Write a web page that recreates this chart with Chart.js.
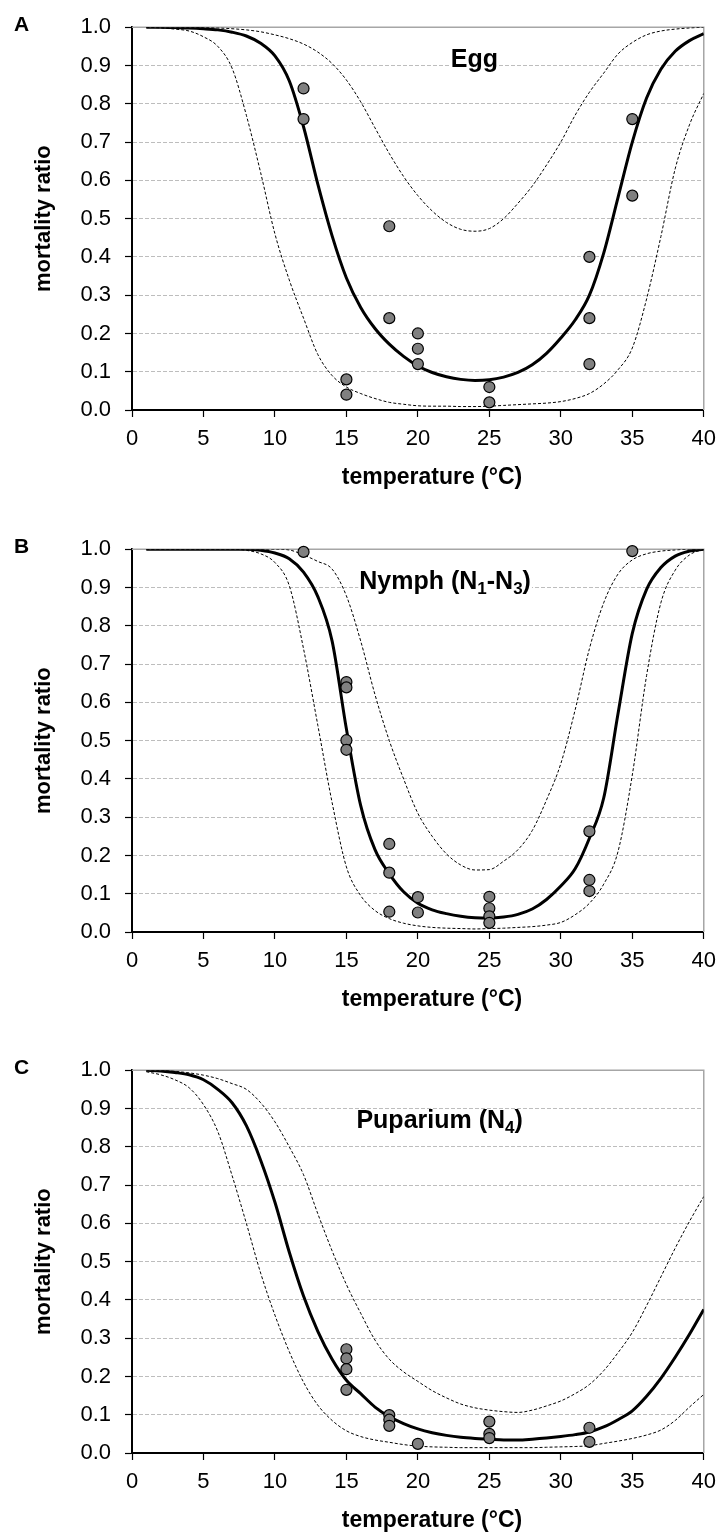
<!DOCTYPE html>
<html><head><meta charset="utf-8">
<script src="https://cdn.jsdelivr.net/npm/chart.js@4.4.1/dist/chart.umd.min.js"></script>
<style>
html,body{margin:0;padding:0;background:#fff;}
body{width:725px;height:1535px;position:relative;overflow:hidden;}
.panel{position:absolute;left:0;width:725px;height:492px;}
canvas{display:block;}
</style></head><body>
<div class="panel" style="top:0px"><canvas id="cA" width="725" height="492"></canvas></div>
<div class="panel" style="top:522px"><canvas id="cB" width="725" height="492"></canvas></div>
<div class="panel" style="top:1043px"><canvas id="cC" width="725" height="492"></canvas></div>
<script>
// ---------- data ----------
const temps = [1,2,3,4,5,6,7,8,9,10,11,12,13,14,15,16,17,18,19,20,21,22,23,24,25,26,27,28,29,30,31,32,33,34,35,36,37,38,39,40];
const xTicks = [0,5,10,15,20,25,30,35,40];
const yTicks = [0.0,0.1,0.2,0.3,0.4,0.5,0.6,0.7,0.8,0.9,1.0];
const xTitle = "temperature (°C)";
const yTitle = "mortality ratio";

// A: Egg
const eggObsT = [12,12,15,15,18,18,20,20,20,25,25,32,32,32,35,35];
const eggObsM = [0.84,0.76,0.08,0.04,0.48,0.24,0.20,0.16,0.12,0.06,0.02,0.40,0.24,0.12,0.76,0.56];
const eggMean = [1.000,1.000,0.999,0.998,0.996,0.993,0.987,0.977,0.958,0.925,0.86,0.74,0.59,0.455,0.345,0.268,0.213,0.172,0.14,0.115,0.098,0.087,0.080,0.077,0.079,0.086,0.098,0.118,0.148,0.188,0.235,0.30,0.41,0.555,0.70,0.815,0.89,0.937,0.965,0.983];
const eggUpper = [1.000,1.000,1.000,0.999,0.999,0.998,0.996,0.993,0.988,0.980,0.970,0.956,0.935,0.905,0.862,0.805,0.737,0.67,0.61,0.56,0.52,0.49,0.472,0.467,0.474,0.50,0.54,0.585,0.64,0.70,0.77,0.83,0.88,0.93,0.96,0.98,0.99,0.995,0.998,1.000];
const eggLower = [1.000,0.998,0.995,0.990,0.975,0.950,0.893,0.77,0.62,0.46,0.34,0.24,0.145,0.09,0.06,0.043,0.03,0.02,0.015,0.011,0.010,0.010,0.009,0.009,0.010,0.012,0.014,0.016,0.018,0.022,0.030,0.043,0.068,0.105,0.162,0.29,0.453,0.63,0.745,0.827];

// B: Nymph (N1-N3)
const nymObsT = [12,15,15,15,15,18,18,18,20,20,25,25,25,25,32,32,32,35];
const nymObsM = [0.993,0.653,0.639,0.501,0.476,0.230,0.155,0.053,0.091,0.051,0.092,0.062,0.041,0.024,0.263,0.136,0.107,0.995];
const nymMean = [1.000,1.000,1.000,1.000,1.000,1.000,1.000,1.000,0.997,0.990,0.975,0.940,0.876,0.76,0.53,0.33,0.215,0.152,0.105,0.075,0.058,0.048,0.041,0.037,0.036,0.039,0.046,0.060,0.085,0.12,0.165,0.245,0.35,0.57,0.78,0.895,0.952,0.982,0.995,1.000];
const nymUpper = [1.000,1.000,1.000,1.000,1.000,1.000,1.000,1.000,1.000,1.000,0.998,0.985,0.968,0.948,0.878,0.76,0.62,0.50,0.40,0.31,0.25,0.204,0.175,0.162,0.163,0.185,0.215,0.265,0.345,0.44,0.58,0.74,0.86,0.935,0.972,0.988,0.995,0.998,1.000,1.000];
const nymLower = [1.000,1.000,1.000,1.000,1.000,1.000,1.000,0.997,0.988,0.965,0.905,0.74,0.54,0.338,0.17,0.095,0.056,0.035,0.023,0.016,0.012,0.010,0.009,0.008,0.009,0.010,0.012,0.014,0.018,0.025,0.045,0.075,0.125,0.21,0.41,0.67,0.86,0.945,0.985,1.000];

// C: Puparium (N4)
const pupObsT = [15,15,15,15,18,18,18,20,25,25,25,32,32];
const pupObsM = [0.271,0.247,0.219,0.165,0.099,0.087,0.071,0.024,0.082,0.050,0.039,0.066,0.029];
const pupMean = [1.000,0.998,0.994,0.988,0.975,0.950,0.915,0.855,0.765,0.655,0.525,0.41,0.318,0.245,0.19,0.155,0.12,0.095,0.077,0.063,0.053,0.046,0.041,0.038,0.036,0.034,0.034,0.036,0.039,0.043,0.048,0.055,0.068,0.087,0.11,0.148,0.195,0.25,0.31,0.375];
const pupUpper = [1.000,0.999,0.997,0.993,0.987,0.978,0.965,0.950,0.915,0.865,0.80,0.727,0.625,0.528,0.44,0.365,0.295,0.245,0.212,0.187,0.163,0.144,0.128,0.118,0.112,0.108,0.106,0.112,0.123,0.136,0.155,0.179,0.215,0.262,0.315,0.385,0.46,0.535,0.605,0.67];
const pupLower = [0.996,0.988,0.975,0.954,0.91,0.84,0.725,0.60,0.47,0.36,0.265,0.185,0.125,0.085,0.058,0.043,0.034,0.028,0.022,0.018,0.016,0.015,0.014,0.014,0.014,0.014,0.014,0.014,0.015,0.016,0.017,0.019,0.025,0.031,0.038,0.047,0.060,0.085,0.12,0.153];

// ---------- drawing ----------
const FONT = "'Liberation Sans', Arial, sans-serif";
function pts(xs, ys){ return xs.map((x,i)=>({x:x, y:ys[i]})); }

function titlePlugin(letter, parts, tx, ty){
  return {
    id:'decor',
    beforeDatasetsDraw(chart){
      const ctx = chart.ctx, a = chart.chartArea;
      ctx.save();
      ctx.strokeStyle = '#a6a6a6'; ctx.lineWidth = 1.5;
      ctx.beginPath();
      ctx.moveTo(a.left, a.top); ctx.lineTo(a.right, a.top); ctx.lineTo(a.right, a.bottom);
      ctx.stroke();
      // panel title with subscripts
      const size = 25, sub = 17;
      const x0 = chart.scales.x.getPixelForValue(tx);
      const y0 = chart.scales.y.getPixelForValue(ty);
      let w = 0;
      parts.forEach(p=>{ ctx.font = 'bold '+(p.sub?sub:size)+'px '+FONT; w += ctx.measureText(p.t).width; });
      ctx.fillStyle = '#fff';
      ctx.fillRect(x0-1, y0 - size*0.72, w+2, size*0.72 + size*0.22);
      ctx.fillStyle = '#000'; ctx.textBaseline = 'alphabetic'; ctx.textAlign = 'left';
      let x = x0;
      parts.forEach(p=>{
        ctx.font = 'bold '+(p.sub?sub:size)+'px '+FONT;
        ctx.fillText(p.t, x, p.sub ? y0 + 5 : y0);
        x += ctx.measureText(p.t).width;
      });
      ctx.restore();
    },
    afterDraw(chart){
      const ctx = chart.ctx;
      ctx.save();
      ctx.fillStyle = '#000';
      ctx.font = 'bold 21px '+FONT; ctx.textAlign='left'; ctx.textBaseline='middle';
      ctx.fillText(letter, 14, 25);
      ctx.font = 'bold 23px '+FONT; ctx.textAlign='center';
      ctx.fillText(xTitle, 432, 478);
      ctx.restore();
    }
  };
}

function makePanel(id, obsT, obsM, mean, upper, lower, letter, parts, tx, ty){
  new Chart(document.getElementById(id), {
    type:'scatter',
    data:{ datasets:[
      { data: pts(obsT, obsM), pointRadius:5.5, pointBackgroundColor:'#808080', pointBorderColor:'#000', pointBorderWidth:1.2, showLine:false, clip:false },
      { data: pts(temps, mean), showLine:true, borderColor:'#000', borderWidth:3, pointRadius:0, cubicInterpolationMode:'monotone', fill:false },
      { data: pts(temps, upper), showLine:true, borderColor:'#000', borderWidth:1, borderDash:[3,2], pointRadius:0, cubicInterpolationMode:'monotone', fill:false },
      { data: pts(temps, lower), showLine:true, borderColor:'#000', borderWidth:1, borderDash:[3,2], pointRadius:0, cubicInterpolationMode:'monotone', fill:false }
    ]},
    options:{
      responsive:false, animation:false, events:[],
      layout:{ padding:{ top:20, right:14, bottom:0, left:0 } },
      plugins:{ legend:{display:false}, tooltip:{enabled:false} },
      scales:{
        x:{ type:'linear', min:0, max:40,
            afterFit: s=>{ s.height = 82; },
            afterBuildTicks: s=>{ s.ticks = xTicks.map(v=>({value:v})); },
            ticks:{ color:'#000', font:{family:FONT, size:22}, padding:9, maxRotation:0, callback:v=>String(v) },
            grid:{ drawOnChartArea:false, drawTicks:true, tickLength:7, tickColor:'#000', tickWidth:1.2 },
            border:{ color:'#000', width:2 } },
        y:{ type:'linear', min:0, max:1,
            afterFit: s=>{ s.width = 132; },
            afterBuildTicks: s=>{ s.ticks = yTicks.map(v=>({value:v})); },
            ticks:{ color:'#000', font:{family:FONT, size:22}, padding:14, callback:v=>Number(v).toFixed(1) },
            grid:{ color:'#bdbdbd', lineWidth:1, drawTicks:true, tickLength:7, tickColor:'#000', tickWidth:1.2, tickBorderDash:[] },
            border:{ color:'#000', width:2, dash:[4,2] },
            title:{ display:true, text:yTitle, color:'#000', font:{family:FONT, size:22, weight:'bold'}, padding:{top:31, bottom:0} } }
      }
    },
    plugins:[ titlePlugin(letter, parts, tx, ty) ]
  });
}

makePanel('cA', eggObsT, eggObsM, eggMean, eggUpper, eggLower, 'A', [{t:'Egg'}], 22.3, 0.895);
makePanel('cB', nymObsT, nymObsM, nymMean, nymUpper, nymLower, 'B', [{t:'Nymph (N'},{t:'1',sub:true},{t:'-N'},{t:'3',sub:true},{t:')'}], 15.9, 0.897);
makePanel('cC', pupObsT, pupObsM, pupMean, pupUpper, pupLower, 'C', [{t:'Puparium (N'},{t:'4',sub:true},{t:')'}], 15.7, 0.849);
</script>
</body></html>
